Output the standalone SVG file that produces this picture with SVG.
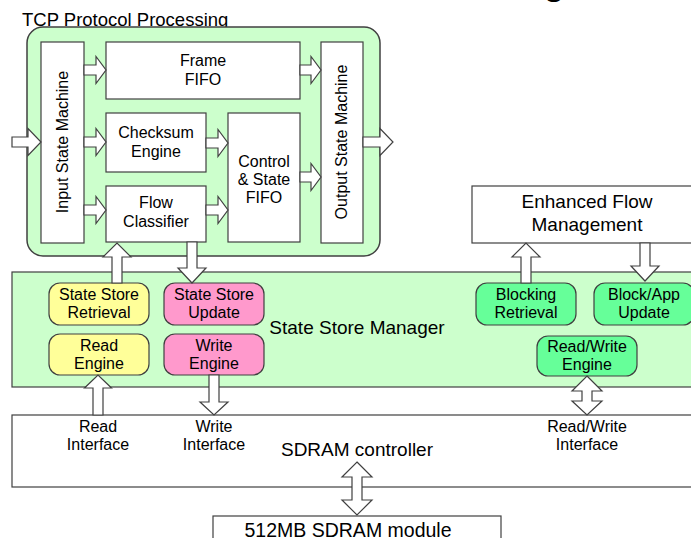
<svg xmlns="http://www.w3.org/2000/svg" width="691" height="538" viewBox="0 0 691 538">
<style>
text{font-family:"Liberation Sans",Arial,sans-serif;fill:#000;text-anchor:middle}
.box{fill:#fff;stroke:#404040;stroke-width:1.2}
.t16{font-size:16px}
.t19{font-size:19px}
.arr{fill:#fff;stroke:#404040;stroke-width:1.2;stroke-linejoin:miter}
.yel{fill:#ffff99;stroke:#404040;stroke-width:1.2}
.pink{fill:#ff99cc;stroke:#404040;stroke-width:1.2}
.mint{fill:#66ff99;stroke:#404040;stroke-width:1.2}
</style>
<rect width="691" height="538" fill="#fff"/>
<text x="554" y="-6" style="font-size:40px;text-anchor:middle">g</text>

<g id="tcp">
<text x="22" y="26" style="font-size:18.5px;text-anchor:start">TCP Protocol Processing</text>
<rect x="27" y="27" width="353" height="229" rx="16" fill="#ccffcc" stroke="#404040" stroke-width="1.5"/>
</g>
<g id="ssm">
<rect x="12" y="272" width="690" height="115" fill="#ccffcc" stroke="#404040" stroke-width="1.2"/>
<text x="357" y="334" class="t19">State Store Manager</text>
</g>
<g id="sdramctl">
<rect x="12" y="415" width="690" height="72" class="box"/>
<text x="357" y="456" class="t19">SDRAM controller</text>
</g>
<g id="module">
<rect x="213" y="516" width="288" height="40" class="box"/>
<text x="348" y="537" style="font-size:19.5px">512MB SDRAM module</text>
</g>

<g id="ism">
<rect x="41" y="42" width="43" height="201" class="box"/>
<text transform="translate(68,142) rotate(-90)" class="t16">Input State Machine</text>
</g>
<g id="frame">
<rect x="106" y="42" width="194" height="57" class="box"/>
<text x="203" y="66" class="t16">Frame</text>
<text x="203" y="85" class="t16">FIFO</text>
</g>
<g id="checksum">
<rect x="106" y="113" width="100" height="59" class="box"/>
<text x="156" y="138" class="t16">Checksum</text>
<text x="156" y="157" class="t16">Engine</text>
</g>
<g id="flow">
<rect x="106" y="186" width="100" height="56" class="box"/>
<text x="156" y="208" class="t16">Flow</text>
<text x="156" y="227" class="t16">Classifier</text>
</g>
<g id="control">
<rect x="228" y="113" width="72" height="129" class="box"/>
<text x="264" y="167" class="t16">Control</text>
<text x="264" y="185" class="t16">&amp; State</text>
<text x="264" y="203" class="t16">FIFO</text>
</g>
<g id="osm">
<rect x="321" y="42" width="42" height="201" class="box"/>
<text transform="translate(347,142) rotate(-90)" class="t16">Output State Machine</text>
</g>
<g id="efm">
<rect x="472" y="186" width="230" height="57" class="box"/>
<text x="587" y="208" class="t19">Enhanced Flow</text>
<text x="587" y="231" class="t19">Management</text>
</g>

<g id="ssretrieval">
<rect x="49" y="283" width="100" height="42" rx="11" class="yel"/>
<text x="99" y="300" class="t16">State Store</text>
<text x="99" y="318" class="t16">Retrieval</text>
</g>
<g id="readengine">
<rect x="49" y="334" width="100" height="41" rx="11" class="yel"/>
<text x="99" y="351" class="t16">Read</text>
<text x="99" y="369" class="t16">Engine</text>
</g>
<g id="ssupdate">
<rect x="164" y="283" width="100" height="42" rx="11" class="pink"/>
<text x="214" y="300" class="t16">State Store</text>
<text x="214" y="318" class="t16">Update</text>
</g>
<g id="writeengine">
<rect x="164" y="334" width="100" height="41" rx="11" class="pink"/>
<text x="214" y="351" class="t16">Write</text>
<text x="214" y="369" class="t16">Engine</text>
</g>
<g id="blocking">
<rect x="476" y="283" width="100" height="42" rx="11" class="mint"/>
<text x="526" y="300" class="t16">Blocking</text>
<text x="526" y="318" class="t16">Retrieval</text>
</g>
<g id="blockapp">
<rect x="594" y="283" width="100" height="42" rx="11" class="mint"/>
<text x="644" y="300" class="t16">Block/App</text>
<text x="644" y="318" class="t16">Update</text>
</g>
<g id="rwengine">
<rect x="537" y="336" width="100" height="40" rx="11" class="mint"/>
<text x="587" y="352" class="t16">Read/Write</text>
<text x="587" y="370" class="t16">Engine</text>
</g>

<g id="labels">
<text x="98" y="432" class="t16">Read</text>
<text x="98" y="450" class="t16">Interface</text>
<text x="214" y="432" class="t16">Write</text>
<text x="214" y="450" class="t16">Interface</text>
<text x="587" y="432" class="t16">Read/Write</text>
<text x="587" y="450" class="t16">Interface</text>
</g>

<g id="connectors">
<!-- input -->
<polygon class="arr" points="12,137 28,137 28,128.5 41,142 28,155.5 28,147 12,147"/>
<!-- ISM to Frame -->
<polygon class="arr" points="84,65 96,65 96,56.5 106,70 96,83.5 96,75 84,75"/>
<!-- ISM to Checksum -->
<polygon class="arr" points="84,137 96,137 96,128.5 106,142 96,155.5 96,147 84,147"/>
<!-- ISM to Flow -->
<polygon class="arr" points="84,205 96,205 96,196.5 106,210 96,223.5 96,215 84,215"/>
<!-- Checksum to Control -->
<polygon class="arr" points="206,138 218,138 218,129.5 228,143 218,156.5 218,148 206,148"/>
<!-- Flow to Control -->
<polygon class="arr" points="206,205 218,205 218,196.5 228,210 218,223.5 218,215 206,215"/>
<!-- Frame to OSM -->
<polygon class="arr" points="300,65 311,65 311,56.5 321,70 311,83.5 311,75 300,75"/>
<!-- Control to OSM -->
<polygon class="arr" points="300,172 311,172 311,163.5 321,177 311,190.5 311,182 300,182"/>
<!-- output -->
<polygon class="arr" points="363,137 380,137 380,128.5 393,142 380,155.5 380,147 363,147"/>
<!-- Retrieval up to Flow -->
<polygon class="arr" points="112,283 112,257 103,257 117,243 131,257 122,257 122,283"/>
<!-- Flow down to Update -->
<polygon class="arr" points="187,242 187,268 178,268 192,283 206,268 197,268 197,242"/>
<!-- Read up -->
<polygon class="arr" points="93,415 93,388 84.5,388 98,375 111.5,388 103,388 103,415"/>
<!-- Write down -->
<polygon class="arr" points="209,375 209,402 200,402 214,415 228,402 219,402 219,375"/>
<!-- Blocking up -->
<polygon class="arr" points="521,283 521,257 512,257 526,243 540,257 531,257 531,283"/>
<!-- Block/App down -->
<polygon class="arr" points="640,243 640,266 631,266 645,281 659,266 650,266 650,243"/>
<!-- R/W bidir -->
<polygon class="arr" points="587,376 602,391 592,391 592,401 602,401 587,415 572,401 582,401 582,391 572,391"/>
<!-- SDRAM bidir -->
<polygon class="arr" points="357,462 372,477 362,477 362,500 372,500 357,515 342,500 352,500 352,477 342,477"/>
</g>
</svg>
